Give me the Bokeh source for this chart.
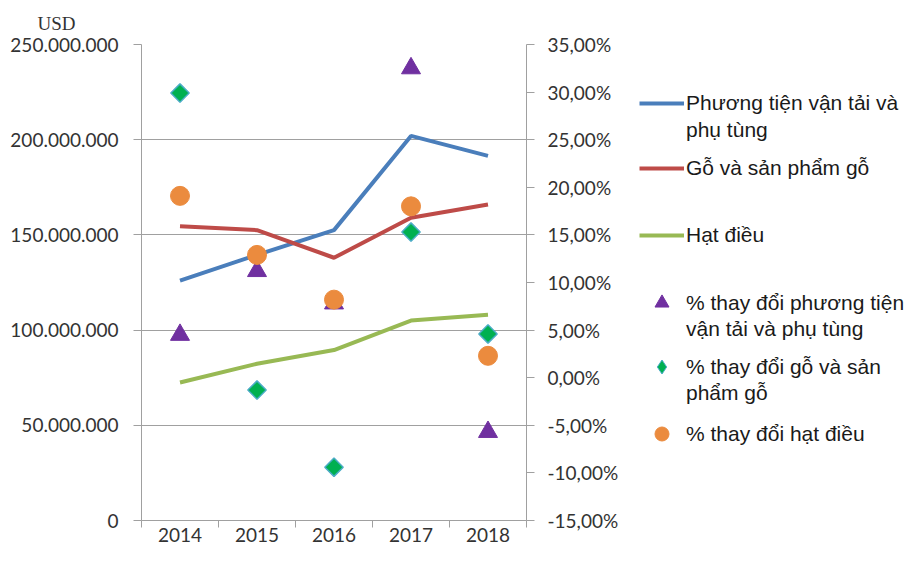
from bokeh.plotting import figure
from bokeh.layouts import row
from bokeh.models import (Range1d, LinearAxis, FixedTicker, Legend, LegendItem)
from bokeh.embed import file_html
from bokeh.resources import INLINE
import math

# ---------------- data ----------------
years = ["2014", "2015", "2016", "2017", "2018"]
phuong_tien = [126.0e6, 139.5e6, 152.5e6, 202.0e6, 191.5e6]
go = [154.5e6, 152.5e6, 138.0e6, 159.0e6, 166.0e6]
hat_dieu = [72.5e6, 82.3e6, 89.5e6, 105.0e6, 108.0e6]
pct_phuong_tien = [4.5, 11.2, 7.8, 32.5, -5.7]
pct_go = [29.9, -1.3, -9.4, 15.3, 4.6]
pct_hat_dieu = [19.1, 12.9, 8.2, 18.0, 2.3]

left_ticks = [0, 50e6, 100e6, 150e6, 200e6, 250e6]
right_ticks = [-15, -10, -5, 0, 5, 10, 15, 20, 25, 30, 35]

# legend names (each split where the reference wraps)
names = [["Phương tiện vận tải và", "phụ tùng"], ["Gỗ và sản phẩm gỗ"], ["Hạt điều"],
         ["% thay đổi phương tiện", "vận tải và phụ tùng"], ["% thay đổi gỗ và sản", "phẩm gỗ"],
         ["% thay đổi hạt điều"]]

x = list(range(len(years)))

GRAY = "#A0A0A0"
TXT = "#333333"
NUMFONT = "Lato"

C_BLUE, C_RED, C_GREEN = "#4A7EBB", "#BE4B48", "#98B954"
C_TRI, C_DIA, C_DIA_LINE, C_CIR = "#7030A0", "#00B050", "#4BACC6", "#EB8B3E"

W_MAIN = 621
p = figure(width=W_MAIN, height=546, output_backend="svg", toolbar_location=None,
           x_range=Range1d(-0.5, len(years) - 0.5), y_range=Range1d(0, 250e6),
           min_border_left=141, min_border_right=W_MAIN - 527, min_border_top=43,
           min_border_bottom=26, title="USD")
p.outline_line_color = None
p.extra_y_ranges = {"pct": Range1d(-15, 35)}

p.title.align = "left"
p.title.offset = 37 - 141
p.title.text_font = "Liberation Serif"
p.title.text_font_size = "19px"
p.title.text_font_style = "normal"
p.title.text_color = TXT
p.title.standoff = 21

# x axis
p.xaxis.ticker = FixedTicker(ticks=x, minor_ticks=[i - 0.5 for i in range(len(years) + 1)])
p.xaxis.major_label_overrides = {i: y for i, y in enumerate(years)}
p.xaxis.major_tick_out = 0
p.xaxis.major_tick_in = 0
p.xaxis.minor_tick_out = 7
p.xaxis.minor_tick_in = 0
p.xaxis.minor_tick_line_color = GRAY
p.xaxis.axis_line_color = GRAY
p.xaxis.major_label_standoff = 0
p.xaxis.major_label_text_font = NUMFONT
p.xaxis.major_label_text_font_size = "19px"
p.xaxis.major_label_text_color = TXT

# left y axis
def fmt_usd(v):
    return "0" if v == 0 else f"{int(v):,}".replace(",", ".")

p.yaxis.ticker = FixedTicker(ticks=left_ticks, minor_ticks=[])
p.yaxis.major_label_overrides = {t: fmt_usd(t) for t in left_ticks}
p.yaxis.major_tick_out = 8
p.yaxis.major_tick_in = 0
p.yaxis.major_tick_line_color = GRAY
p.yaxis.axis_line_color = GRAY
p.yaxis.major_label_standoff = 15
p.yaxis.major_label_text_font = NUMFONT
p.yaxis.major_label_text_font_size = "19px"
p.yaxis.major_label_text_color = TXT

# right y axis
def fmt_pct(v):
    return f"{v:.2f}".replace(".", ",") + "%"

ra = LinearAxis(y_range_name="pct", ticker=FixedTicker(ticks=right_ticks, minor_ticks=[]))
ra.major_label_overrides = {t: fmt_pct(t) for t in right_ticks}
ra.major_tick_out = 8
ra.major_tick_in = 0
ra.major_tick_line_color = GRAY
ra.axis_line_color = GRAY
ra.major_label_standoff = 13
ra.major_label_text_font = NUMFONT
ra.major_label_text_font_size = "19px"
ra.major_label_text_color = TXT
p.add_layout(ra, "right")

p.xgrid.visible = False
p.ygrid.ticker = FixedTicker(ticks=left_ticks)
p.ygrid.grid_line_color = GRAY
p.ygrid.grid_line_width = 1

# lines
line_kw = [dict(line_color=C_BLUE, line_width=4), dict(line_color=C_RED, line_width=4),
           dict(line_color=C_GREEN, line_width=4)]
p.line(x, phuong_tien, **line_kw[0])
p.line(x, go, **line_kw[1])
p.line(x, hat_dieu, **line_kw[2])

# markers (right axis)
tri_kw = dict(marker="triangle", fill_color=C_TRI, line_color=C_TRI)
cir_kw = dict(marker="circle", fill_color=C_CIR, line_color=C_CIR)
p.scatter(x, pct_phuong_tien, y_range_name="pct", size=19, **tri_kw)
p.scatter(x, pct_go, y_range_name="pct", size=13, marker="square", angle=math.pi / 4,
          fill_color=C_DIA, line_color=C_DIA_LINE, line_width=1.5)
p.scatter(x, pct_hat_dieu, y_range_name="pct", size=19, **cir_kw)

# ---------------- legend panel ----------------
W_LEG = 905 - W_MAIN
H = 546
q = figure(width=W_LEG, height=H, output_backend="svg", toolbar_location=None,
           x_range=Range1d(0, 1), y_range=Range1d(0, 1), x_axis_type=None, y_axis_type=None,
           min_border=0)
q.outline_line_color = None
q.grid.visible = False

NAN = [float("nan")]
prox = [q.line(NAN, NAN, **line_kw[0]), q.line(NAN, NAN, **line_kw[1]), q.line(NAN, NAN, **line_kw[2]),
        q.scatter(NAN, NAN, size=14, **tri_kw),
        q.scatter(NAN, NAN, size=15, marker="diamond", fill_color=C_DIA, line_color=C_DIA_LINE, line_width=1),
        q.scatter(NAN, NAN, size=13, **cir_kw)]
blank = q.line(NAN, NAN, line_alpha=0)

LEG_X = 639 - W_MAIN
SHIFT = 26.5
def add_leg(renderer, label, center_y, gh):
    hh = max(gh, 26)
    top_y = center_y - hh / 2
    leg = Legend(items=[LegendItem(label=label, renderers=[renderer])],
                 location=(LEG_X, H - (top_y + SHIFT + hh)),
                 glyph_width=45, glyph_height=gh, label_height=20, label_standoff=2,
                 padding=0, margin=0, spacing=0,
                 border_line_color=None, background_fill_alpha=0,
                 label_text_font="Liberation Sans", label_text_font_size="21px",
                 label_text_color="#1a1a1a", label_text_line_height=1.2)
    q.add_layout(leg)

centers = [(101, 128), (166.5,), (233.5,), (302, 327), (366, 391), (433,)]
gheights = [20, 20, 20, 35, 35, 35]
for r, nm, cs, gh in zip(prox, names, centers, gheights):
    add_leg(r, nm[0], cs[0], gh)
    if len(nm) > 1:
        add_leg(blank, nm[1], cs[1], 20)

layout = row(p, q, spacing=0)
open("out.html", "w").write(file_html(layout, INLINE))
